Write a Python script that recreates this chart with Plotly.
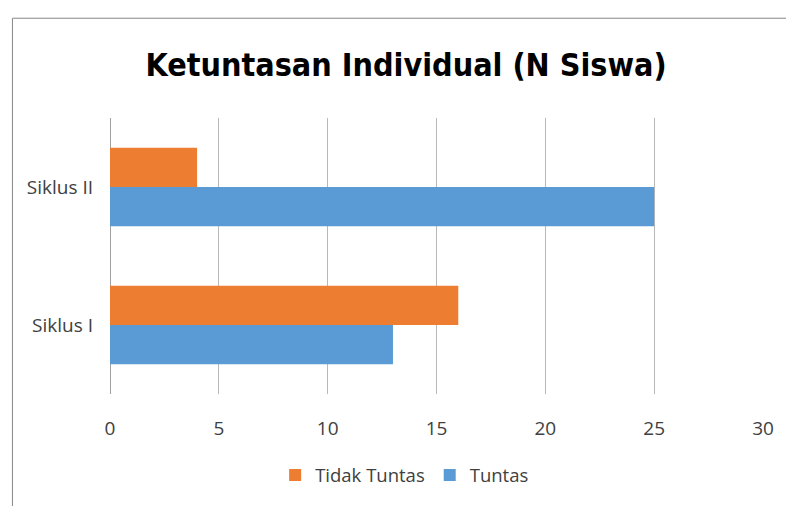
import plotly.graph_objects as go

categories = ["Siklus I", "Siklus II"]
tuntas = [13, 25]
tidak_tuntas = [16, 4]
x_ticks = [0, 5, 10, 15, 20, 25, 30]

FONT = "Open Sans, sans-serif"
TITLE_FONT = "DejaVu Sans Condensed, Open Sans, sans-serif"

fig = go.Figure()
fig.add_trace(go.Bar(y=categories, x=tuntas, name="Tuntas", orientation="h",
                     marker=dict(color="#5B9BD5", line=dict(width=0))))
fig.add_trace(go.Bar(y=categories, x=tidak_tuntas, name="Tidak Tuntas", orientation="h",
                     marker=dict(color="#ED7D31", line=dict(width=0))))

W, H = 786, 506
L, R, T, B = 110, 20, 118, 110
pw, ph = W - L - R, H - T - B

def px_x(p):
    return (p - L) / pw

def px_y(p):
    return (H - B - p) / ph

fig.update_layout(
    width=W, height=H,
    margin=dict(l=L, r=R, t=T, b=B),
    paper_bgcolor="white", plot_bgcolor="white",
    barmode="group", bargap=0.43, bargroupgap=0,
    title=dict(text="<b>Ketuntasan Individual (N Siswa)</b>",
               font=dict(family=TITLE_FONT, size=32, color="#000000"),
               x=406 / W, xanchor="center", xref="container",
               y=1 - 65 / H, yanchor="middle", yref="container"),
    font=dict(family=FONT, size=19, color="#404040"),
    legend=dict(orientation="h", traceorder="reversed", itemwidth=30,
                x=px_x(406), xanchor="center", y=px_y(478), yanchor="middle",
                font=dict(family=FONT, size=18.5, color="#404040")),
    showlegend=True,
    shapes=[dict(type="rect", xref="paper", yref="paper",
                 x0=px_x(12), x1=px_x(800), y0=px_y(520), y1=px_y(17.5),
                 line=dict(color="#878787", width=1), fillcolor="rgba(0,0,0,0)", layer="below")],
)

fig.update_xaxes(range=[0, 30], tickvals=x_ticks, ticktext=[str(v) for v in x_ticks],
                 showgrid=True, gridcolor="#b8b8b8", gridwidth=1,
                 zeroline=True, zerolinecolor="#a0a0a0", zerolinewidth=1,
                 showline=False, ticks="", ticklabelstandoff=21,
                 tickfont=dict(family=FONT, size=19, color="#404040"))
fig.update_yaxes(showgrid=False, zeroline=False, showline=False, ticks="",
                 ticklabelstandoff=16,
                 tickfont=dict(family=FONT, size=19, color="#404040"))

fig.write_html("out.html", config={"displayModeBar": False},
               post_script="document.body.style.margin='0';document.body.style.overflow='hidden';")
